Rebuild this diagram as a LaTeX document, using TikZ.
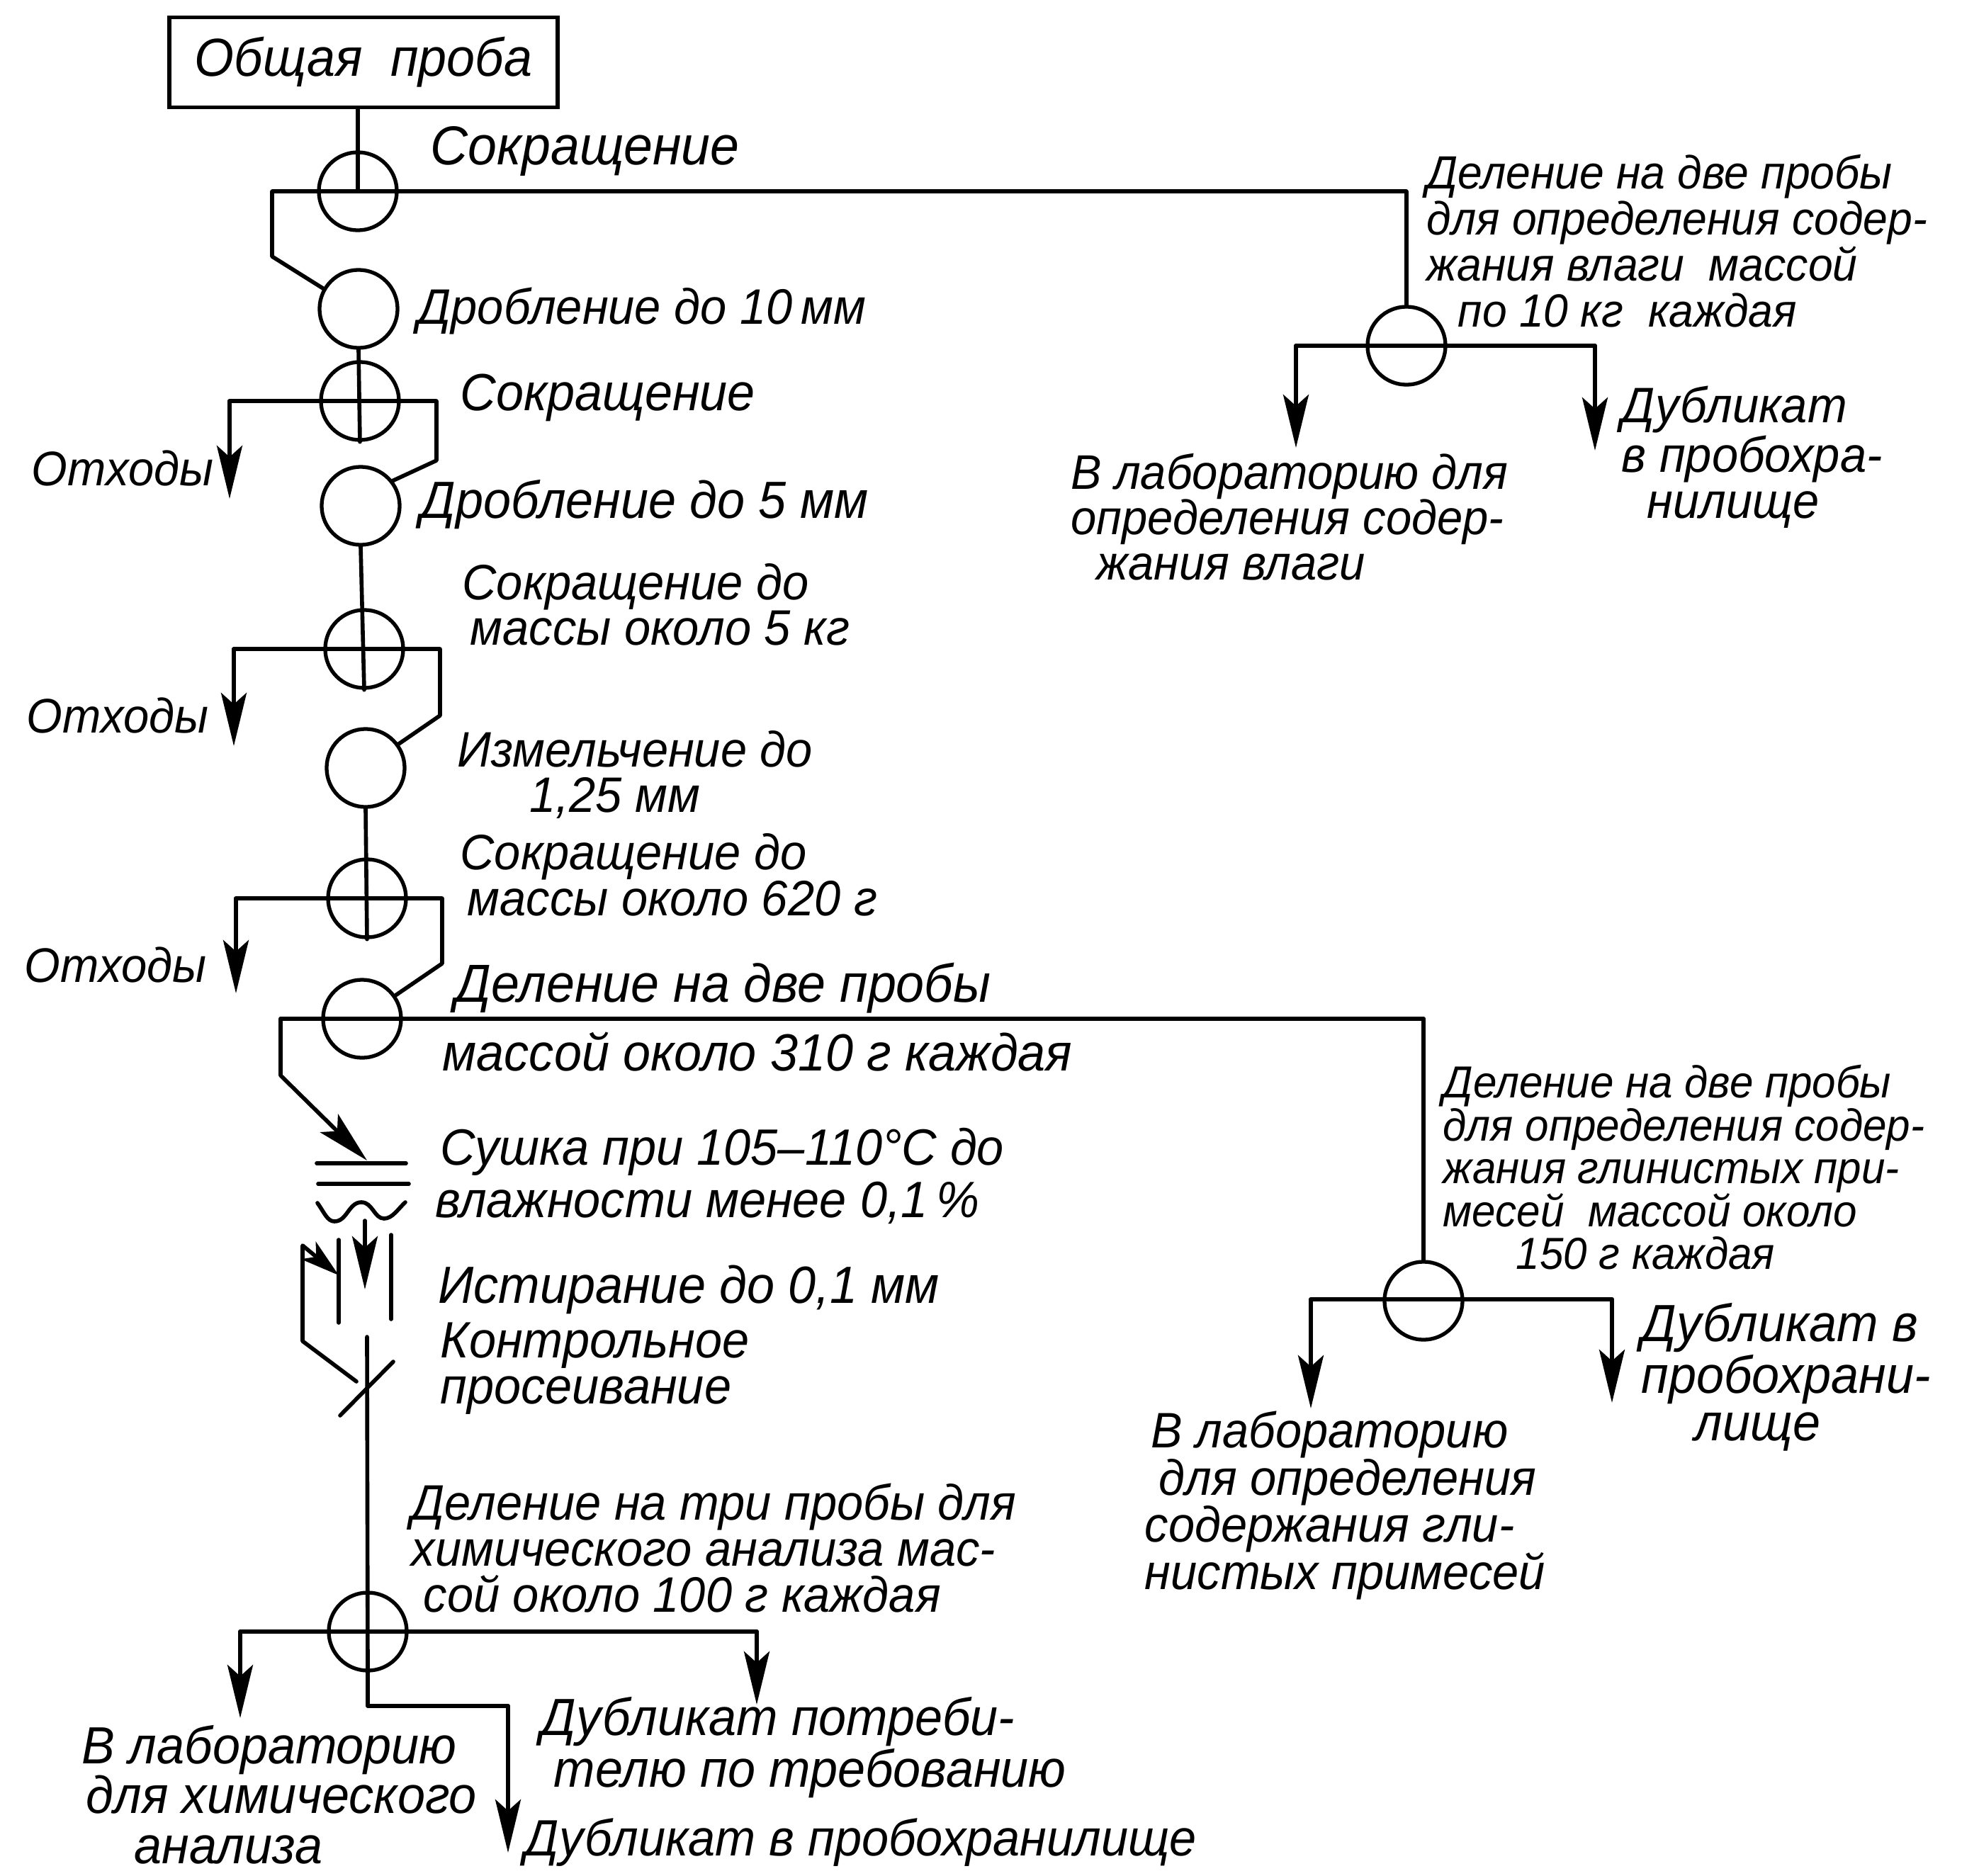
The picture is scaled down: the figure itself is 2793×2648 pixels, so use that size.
\documentclass[tikz,border=0pt]{standalone}
\usepackage{fontspec}
\setmainfont{Liberation Sans}[FakeStretch=0.95]
\usetikzlibrary{arrows.meta}
\tikzset{
  ln/.style={line width=1.6pt, line cap=round, line join=round},
  circ/.style={circle, draw, line width=1.5pt, minimum size=1.1cm, inner sep=0pt},
  arr/.style={ln, -{Stealth[length=7.5mm,width=3.6mm,inset=1.6mm]}},
  arrs/.style={ln, -{Stealth[length=5.5mm,width=3.2mm,inset=1.4mm]}},
  lbl/.style={inner sep=0pt, anchor=west, align=left, font=\itshape\fontsize{21}{18.5}\selectfont},
  lbs/.style={inner sep=0pt, anchor=west, align=left, font=\itshape\fontsize{18}{18.5}\selectfont},
}
\begin{document}
\begin{tikzpicture}[x=0.01cm,y=-0.01cm]
\useasboundingbox (0,0) rectangle (2793,2648);
% ---- main column nodes
\node[draw, line width=1.6pt, minimum width=5.48cm, minimum height=1.27cm, inner sep=0pt,
      font=\itshape\fontsize{21.5}{22}\selectfont] (box) at (513,88) {Общая\ \ проба};
\node[circ] (c1) at (505,270) {};
\node[circ] (c2) at (506,436) {};
\node[circ] (c3) at (508,566) {};
\node[circ] (c4) at (509,714) {};
\node[circ] (c5) at (514,916) {};
\node[circ] (c6) at (516,1084) {};
\node[circ] (c7) at (518,1268) {};
\node[circ] (c8) at (511,1438) {};
\node[circ] (c9) at (519,2303) {};
\node[circ] (r1) at (1985,488) {};
\node[circ] (r2) at (2009,1836) {};

% ---- coordinates
\coordinate (l1) at (384,270);
\coordinate (l1b) at (384,362);
\coordinate (w1) at (324,566);
\coordinate (w1a) at (324,704);
\coordinate (k1) at (616,566);
\coordinate (k1b) at (616,650);
\coordinate (w2) at (330,916);
\coordinate (w2a) at (330,1053);
\coordinate (k2) at (621,916);
\coordinate (k2b) at (621,1010);
\coordinate (w3) at (333,1268);
\coordinate (w3a) at (333,1402);
\coordinate (k3) at (624,1268);
\coordinate (k3b) at (624,1360);
\coordinate (l8) at (396,1438);
\coordinate (l8b) at (396,1518);
\coordinate (dry) at (518,1638);
\coordinate (g1) at (515,1723);
\coordinate (g2) at (515,1820);
\coordinate (s0) at (518,1887);
\coordinate (sv) at (503,1950);
\coordinate (lp1) at (427,1893);
\coordinate (lp2) at (427,1758);
\coordinate (lp3) at (478,1800);
\coordinate (b1) at (339,2303);
\coordinate (b1a) at (339,2425);
\coordinate (b2) at (1068,2303);
\coordinate (b2a) at (1068,2406);
\coordinate (b3) at (519,2408);
\coordinate (b4) at (717,2408);
\coordinate (b4a) at (717,2615);
\coordinate (r1L) at (1829,488);
\coordinate (r1R) at (2251,488);
\coordinate (r1La) at (1829,632);
\coordinate (r1Ra) at (2251,636);
\coordinate (r2L) at (1850,1834);
\coordinate (r2R) at (2275,1834);
\coordinate (r2La) at (1850,1988);
\coordinate (r2Ra) at (2275,1980);

% ---- connectors
\draw[ln] (box.south -| c1) -- (c1.center);
\draw[ln] (c2.150) -- (l1b) -- (l1) -- (l1 -| r1) -- (r1.north);
\draw[ln] (c2.south) -- (c3.south);
\draw[ln] (w1) -- (k1) -- (k1b) -- (c4.38);
\draw[arr] (w1) -- (w1a);
\draw[ln] (c4.south) -- (c5.south);
\draw[ln] (w2) -- (k2) -- (k2b) -- (c6.36);
\draw[arr] (w2) -- (w2a);
\draw[ln] (c6.south) -- (c7.south);
\draw[ln] (w3) -- (k3) -- (k3b) -- (c8.35);
\draw[arr] (w3) -- (w3a);
\draw[ln] (l8 -| r2) -- (l8);
\draw[ln] (l8 -| r2) -- (r2.north);
\draw[arr] (l8) -- (l8b) -- (dry);
% drying symbol
\draw[ln] (447,1642) -- (573,1642);
\draw[ln] (449,1671) -- (577,1671);
\draw[ln] (448,1698) .. controls (458,1712) and (462,1724) .. (472,1724)
                     .. controls (490,1724) and (492,1697) .. (510,1697)
                     .. controls (526,1697) and (528,1720) .. (542,1720)
                     .. controls (554,1720) and (562,1706) .. (572,1697);
% grinder
\draw[arr] (g1) -- (g2);
\draw[ln] (478,1750) -- (478,1867);
\draw[ln] (552,1743) -- (552,1862);
\draw[arrs] (sv) -- (lp1) -- (lp2) -- (lp3);
% sieve
\draw[ln] (s0) -- (c9.south);
\draw[ln] (480,1998) -- (555,1922);
% three-way division
\draw[ln] (b1) -- (b2);
\draw[arr] (b1) -- (b1a);
\draw[arr] (b2) -- (b2a);
\draw[ln] (c9.south) -- (b3) -- (b4);
\draw[arr] (b4) -- (b4a);
% right branches
\draw[ln] (r1L) -- (r1R);
\draw[arr] (r1L) -- (r1La);
\draw[arr] (r1R) -- (r1Ra);
\draw[ln] (r2L) -- (r2R);
\draw[arr] (r2L) -- (r2La);
\draw[arr] (r2R) -- (r2Ra);

% ---- labels
\node[lbl, font=\itshape\fontsize{22}{18.5}\selectfont] (t1) at (607,214) {Сокращение};
\node[lbl, font=\itshape\fontsize{20}{18.5}\selectfont] (t2) at (589,439) {Дробление до 10\,мм};
\node[lbl] (t3) at (649,561) {Сокращение};
\node[lbl, anchor=east, font=\itshape\fontsize{19.5}{18.5}\selectfont] (o1) at (302,661) {Отходы};
\node[lbl, font=\itshape\fontsize{21}{18.5}\selectfont] (t4) at (593,712) {Дробление до 5 мм};
\node[lbl, font=\itshape\fontsize{20}{18.2}\selectfont] (t5) at (652,853) {Сокращение до\\\hspace*{0.11cm}массы около 5 кг};
\node[lbl, anchor=east, font=\itshape\fontsize{19.5}{18.5}\selectfont] (o2) at (295,1010) {Отходы};
\node[lbl, font=\itshape\fontsize{20}{18.2}\selectfont] (t6) at (645,1093) {Измельчение до\\\hspace*{1.02cm}1,25 мм};
\node[lbl, font=\itshape\fontsize{20}{18.5}\selectfont] (t7) at (649,1235) {Сокращение до\\\hspace*{0.1cm}массы около 620 г};
\node[lbl, anchor=east, font=\itshape\fontsize{19.5}{18.5}\selectfont] (o3) at (292,1362) {Отходы};
\node[lbl, font=\itshape\fontsize{21.5}{18.5}\selectfont] (t8) at (642,1395) {Деление на две пробы};
\node[lbl] (t9) at (624,1485) {массой около 310 г каждая};
\node[lbl, font=\itshape\fontsize{20.5}{21}\selectfont] (t10) at (614,1660) {\hspace*{0.07cm}Сушка при 105–110°С до\\влажности менее 0,1\,\%};
\node[lbl, font=\itshape\fontsize{21}{18.5}\selectfont] (t11) at (618,1820) {Истирание до 0,1 мм};
\node[lbl, font=\itshape\fontsize{20.5}{18.5}\selectfont] (t12) at (621,1932) {Контрольное\\просеивание};
\node[lbl, font=\itshape\fontsize{20}{18.5}\selectfont] (t13) at (580,2185) {Деление на три пробы для\\химического анализа мас-\\\hspace*{0.17cm}сой около 100 г каждая};
\node[lbl, font=\itshape\fontsize{21}{20}\selectfont] (t14) at (115,2533) {В лабораторию\\\hspace*{0.06cm}для химического\\\hspace*{0.74cm}анализа};
\node[lbl, font=\itshape\fontsize{21}{17}\selectfont] (t15) at (763,2467) {Дубликат потреби-\\\hspace*{0.18cm}телю по требованию};
\node[lbl, font=\itshape\fontsize{20.5}{18.5}\selectfont] (t16) at (740,2601) {Дубликат в пробохранилище};
\node[lbs, font=\itshape\fontsize{18.7}{18.5}\selectfont] (t17) at (2013,340) {Деление на две пробы\\для определения содер-\\жания влаги\ \ массой\\\hspace*{0.44cm}по 10 кг\ \ каждая};
\node[lbs, font=\itshape\fontsize{19.5}{18.2}\selectfont] (t18) at (1511,730) {В лабораторию для\\определения содер-\\\hspace*{0.36cm}жания влаги};
\node[lbs, font=\itshape\fontsize{20}{18.5}\selectfont] (t19) at (2288,645) {Дубликат\\в пробохра-\\\hspace*{0.36cm}нилище};
\node[lbs, font=\itshape\fontsize{18}{17.2}\selectfont] (t20) at (2036,1648) {Деление на две пробы\\для определения содер-\\жания глинистых при-\\месей\ \ массой около\\\hspace*{1.03cm}150 г каждая};
\node[lbs, font=\itshape\fontsize{21}{19}\selectfont] (t21) at (2316,1944) {Дубликат в\\пробохрани-\\\hspace*{0.75cm}лище};
\node[lbs, font=\itshape\fontsize{20}{19}\selectfont] (t22) at (1615,2125) {\hspace*{0.09cm}В лабораторию\\\hspace*{0.2cm}для определения\\содержания гли-\\нистых примесей};
\end{tikzpicture}
\end{document}
